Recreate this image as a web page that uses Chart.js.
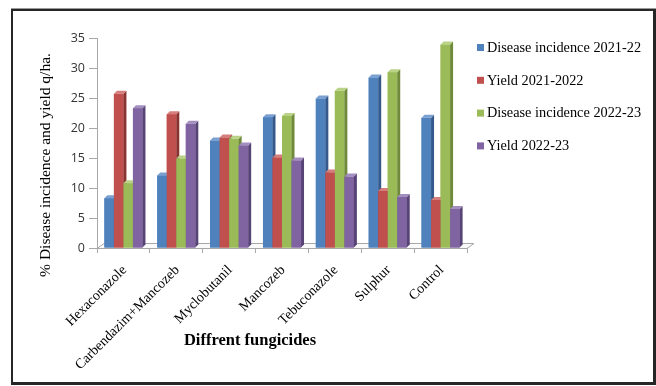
<!DOCTYPE html>
<html>
<head>
<meta charset="utf-8">
<script src="https://cdn.jsdelivr.net/npm/chart.js@4/dist/chart.umd.min.js"></script>
<style>
  html, body { margin: 0; padding: 0; background: #fff; }
  #wrap { position: relative; width: 656px; height: 386px; overflow: hidden; background: #fff; }
  #c { position: absolute; left: 0; top: 0; }
  #frame {
    position: absolute; left: 11px; top: 9px; width: 640px; height: 371px;
    border: 2px solid #262626; border-bottom-width: 3px; border-right-width: 3px;
    box-shadow: 0 -1px 0 #9a9a9a; pointer-events: none;
  }
</style>
</head>
<body>
<div id="wrap">
  <canvas id="c" width="656" height="386"></canvas>
  <div id="frame"></div>
</div>
<script>
// Fungicide treatments along the category axis
const categories = ['Hexaconazole', 'Carbendazim+Mancozeb', 'Myclobutanil', 'Mancozeb', 'Tebuconazole', 'Sulphur', 'Control'];

// Series values (% disease incidence and yield q/ha)
const diseaseIncidence2122 = [8.3, 12.1, 17.9, 21.8, 24.9, 28.4, 21.7];
const yield2122            = [25.7, 22.3, 18.4, 15.1, 12.6, 9.5, 8.0];
const diseaseIncidence2223 = [10.8, 14.9, 18.2, 22.0, 26.2, 29.3, 33.9];
const yield2223            = [23.3, 20.7, 17.1, 14.6, 11.9, 8.5, 6.5];

const seriesLabels = ['Disease incidence 2021-22', 'Yield 2021-2022', 'Disease incidence 2022-23', 'Yield 2022-23'];
const yTicks = [0, 5, 10, 15, 20, 25, 30, 35];

const yTitle = '% Disease incidence and yield q/ha.';
const xTitle = 'Diffrent fungicides';

// Front, side and top face colours for each series
const faces = [
  { front: '#4F81BD', side: '#34598a', top: '#7aa0d2' },
  { front: '#C0504D', side: '#8a3432', top: '#d57e7b' },
  { front: '#9BBB59', side: '#6e8a3a', top: '#b9d286' },
  { front: '#8064A2', side: '#584377', top: '#a38ec0' }
];

const SERIF = '"Liberation Serif", "Times New Roman", serif';
const SANS = '"Open Sans", "Liberation Sans", sans-serif';
const DEPTH = 3;

// Floor of the 3D plot area, drawn under the bars
const floorPlugin = {
  id: 'floor',
  beforeDatasetsDraw(chart) {
    const { ctx, chartArea: a } = chart;
    ctx.save();
    ctx.fillStyle = '#fafafa';
    ctx.strokeStyle = '#a8a8a8';
    ctx.lineWidth = 1;
    ctx.beginPath();
    ctx.moveTo(a.left, a.bottom + 0.5);
    ctx.lineTo(a.left + 7, a.bottom - 4.5);
    ctx.lineTo(a.right + 7, a.bottom - 4.5);
    ctx.lineTo(a.right, a.bottom + 0.5);
    ctx.closePath();
    ctx.fill();
    ctx.stroke();
    ctx.restore();
  }
};

// Columns painted series by series, left to right, each with a front,
// a shaded side and a lit top, so later columns hide earlier sides.
const bar3dPlugin = {
  id: 'bar3d',
  afterDatasetsDraw(chart) {
    const ctx = chart.ctx;
    ctx.save();
    chart.data.datasets.forEach((ds, i) => {
      const meta = chart.getDatasetMeta(i);
      const col = faces[i];
      meta.data.forEach(bar => {
        const { x, y, base, width } = bar.getProps(['x', 'y', 'base', 'width'], true);
        const l = x - width / 2, r = x + width / 2;
        ctx.fillStyle = col.front;
        ctx.fillRect(l, y, width, base - y);
        ctx.fillStyle = col.side;
        ctx.beginPath();
        ctx.moveTo(r, y);
        ctx.lineTo(r + DEPTH, y - DEPTH);
        ctx.lineTo(r + DEPTH, base - DEPTH);
        ctx.lineTo(r, base);
        ctx.closePath();
        ctx.fill();
        ctx.fillStyle = col.top;
        ctx.beginPath();
        ctx.moveTo(l, y);
        ctx.lineTo(l + DEPTH, y - DEPTH);
        ctx.lineTo(r + DEPTH, y - DEPTH);
        ctx.lineTo(r, y);
        ctx.closePath();
        ctx.fill();
      });
    });
    ctx.restore();
  }
};

// Axis titles and the legend at the right
const textPlugin = {
  id: 'texts',
  afterDraw(chart) {
    const ctx = chart.ctx;
    ctx.save();
    ctx.fillStyle = '#000';

    ctx.save();
    ctx.translate(46, 165);
    ctx.rotate(-Math.PI / 2);
    ctx.font = '15.5px ' + SERIF;
    ctx.textAlign = 'center';
    ctx.textBaseline = 'middle';
    ctx.fillText(yTitle, 0, 0);
    ctx.restore();

    ctx.font = 'bold 16.5px ' + SERIF;
    ctx.textAlign = 'center';
    ctx.textBaseline = 'middle';
    ctx.fillText(xTitle, 250, 341);

    ctx.font = '14.3px ' + SERIF;
    ctx.textAlign = 'left';
    chart.data.datasets.forEach((ds, i) => {
      const y = 47.5 + i * 32.8;
      ctx.fillStyle = faces[i].front;
      ctx.fillRect(477, y - 3.5, 7, 7);
      ctx.fillStyle = '#000';
      ctx.fillText(ds.label, 487, y + 0.5);
    });
    ctx.restore();
  }
};

const seriesData = [diseaseIncidence2122, yield2122, diseaseIncidence2223, yield2223];

new Chart(document.getElementById('c'), {
  type: 'bar',
  data: {
    labels: categories,
    datasets: seriesData.map((values, i) => ({
      label: seriesLabels[i],
      data: values,
      backgroundColor: faces[i].front,
      borderWidth: 0,
      categoryPercentage: 0.72,
      barPercentage: 1.0
    }))
  },
  options: {
    responsive: false,
    devicePixelRatio: 1,
    animation: false,
    layout: { padding: { left: 57, top: 38, right: 189, bottom: 0 } },
    plugins: { legend: { display: false }, tooltip: { enabled: false } },
    scales: {
      x: {
        afterFit(scale) { scale.height = 138; },
        grid: { display: true, drawOnChartArea: false, offset: true, tickLength: 5, color: '#a8a8a8' },
        border: { display: true, color: '#a8a8a8' },
        ticks: {
          autoSkip: false, maxRotation: 45, minRotation: 45, padding: 9, labelOffset: 1,
          color: '#000', font: { family: SERIF, size: 14 }
        }
      },
      y: {
        min: 0, max: 35,
        afterFit(scale) { scale.width = 40; },
        afterBuildTicks(scale) { scale.ticks = yTicks.map(v => ({ value: v })); },
        grid: { display: true, drawOnChartArea: false, tickLength: 8, color: '#a8a8a8' },
        border: { display: true, color: '#a8a8a8' },
        ticks: { padding: 4, color: '#333', font: { family: SANS, size: 12.5 } }
      }
    }
  },
  plugins: [floorPlugin, bar3dPlugin, textPlugin]
});
</script>
</body>
</html>
